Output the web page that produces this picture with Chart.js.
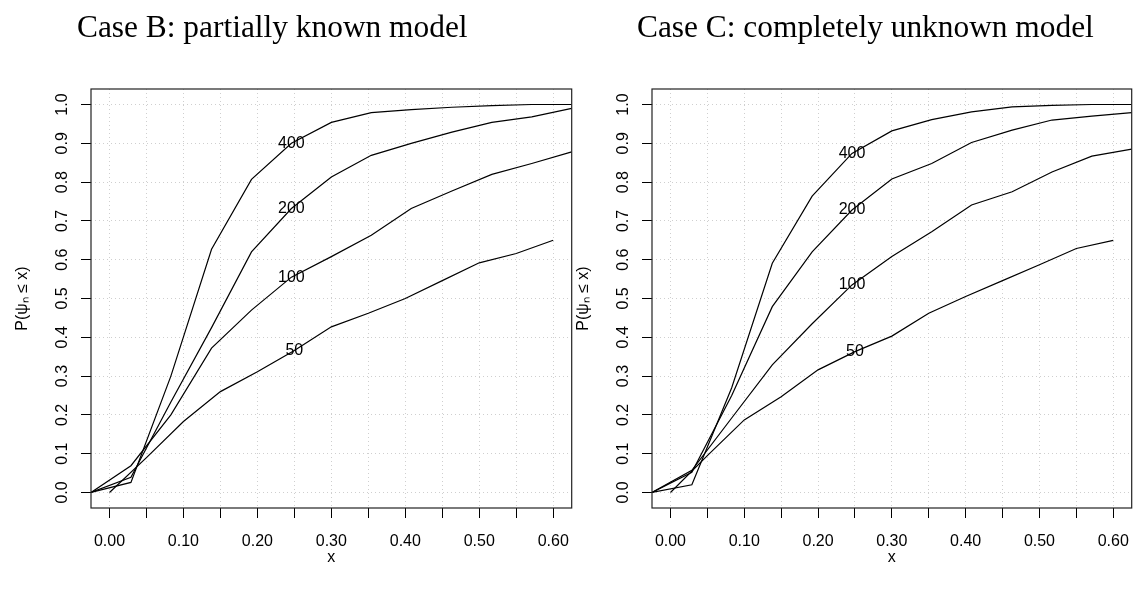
<!DOCTYPE html>
<html>
<head>
<meta charset="utf-8">
<script src="https://cdn.jsdelivr.net/npm/chart.js@4.4.0/dist/chart.umd.min.js"></script>
<style>
  html, body { margin: 0; padding: 0; background: #fff; }
  body { width: 1133px; height: 590px; position: relative; overflow: hidden; }
  canvas.panel { position: absolute; top: 0; }
  .title {
    position: absolute; top: 11px; z-index: 2;
    font-family: "Liberation Serif", "Times New Roman", serif;
    font-size: 31.4px; line-height: 31px; color: #000; white-space: nowrap;
  }
</style>
</head>
<body>
<canvas id="caseB" class="panel" width="574" height="590" style="left:0"></canvas>
<canvas id="caseC" class="panel" width="572" height="590" style="left:561px"></canvas>
<div class="title" style="left:77px">Case B: partially known model</div>
<div class="title" style="left:637px">Case C: completely unknown model</div>
<script>
// sample sizes, one curve each
const sampleSizes = ['400', '200', '100', '50'];

// x positions of the points (n = 400, 200, 100 share one grid, n = 50 has its own)
const gridX = [-0.025, 0.029, 0.083, 0.138, 0.192, 0.246, 0.300, 0.354, 0.408, 0.463, 0.517, 0.571, 0.625];
const grid50 = [0.00, 0.05, 0.10, 0.15, 0.20, 0.25, 0.30, 0.35, 0.40, 0.45, 0.50, 0.55, 0.60];

// Case B: partially known model
const caseB400 = [0, 0.026, 0.300, 0.627, 0.807, 0.900, 0.954, 0.979, 0.987, 0.993, 0.997, 1.000, 1.000];
const caseB200 = [0, 0.039, 0.233, 0.425, 0.620, 0.732, 0.813, 0.869, 0.900, 0.929, 0.954, 0.968, 0.990];
const caseB100 = [0, 0.069, 0.200, 0.372, 0.470, 0.555, 0.608, 0.663, 0.732, 0.777, 0.820, 0.848, 0.878];
const caseB50  = [0, 0.090, 0.183, 0.260, 0.311, 0.366, 0.427, 0.462, 0.500, 0.546, 0.592, 0.616, 0.650];

// Case C: completely unknown model
const caseC400 = [0, 0.020, 0.270, 0.591, 0.764, 0.874, 0.932, 0.961, 0.981, 0.994, 0.998, 1.000, 1.000];
const caseC200 = [0, 0.052, 0.250, 0.479, 0.620, 0.728, 0.808, 0.848, 0.902, 0.934, 0.960, 0.970, 0.979];
const caseC100 = [0, 0.057, 0.192, 0.329, 0.435, 0.535, 0.608, 0.672, 0.741, 0.775, 0.826, 0.867, 0.885];
const caseC50  = [0, 0.095, 0.187, 0.247, 0.316, 0.363, 0.403, 0.462, 0.505, 0.546, 0.587, 0.629, 0.650];

// axis ticks
const xTicks = [0, 0.05, 0.10, 0.15, 0.20, 0.25, 0.30, 0.35, 0.40, 0.45, 0.50, 0.55, 0.60];
const yTicks = [0, 0.1, 0.2, 0.3, 0.4, 0.5, 0.6, 0.7, 0.8, 0.9, 1.0];
const labelIndex = 5; // point where the n label sits

const tickFont = { family: 'Liberation Sans, Arial, sans-serif', size: 16 };

// R style box round the plot region
const boxPlugin = {
    id: 'box',
    afterDraw(chart) {
        const { ctx, chartArea: a } = chart;
        ctx.save();
        ctx.strokeStyle = '#222';
        ctx.lineWidth = 1.2;
        ctx.strokeRect(a.left, a.top, a.right - a.left, a.bottom - a.top);
        ctx.restore();
    }
};

// n labels written over each curve
const curveLabels = {
    id: 'curveLabels',
    afterDatasetsDraw(chart) {
        const ctx = chart.ctx;
        ctx.save();
        ctx.font = '16px "Liberation Sans", Arial, sans-serif';
        ctx.fillStyle = '#000';
        ctx.textAlign = 'center';
        ctx.textBaseline = 'middle';
        chart.data.datasets.forEach((ds, i) => {
            const pt = chart.getDatasetMeta(i).data[labelIndex];
            if (pt) ctx.fillText(ds.label, pt.x, pt.y);
        });
        ctx.restore();
    }
};

function buildDatasets(series) {
    return series.map((ys, i) => {
        const xs = sampleSizes[i] === '50' ? grid50 : gridX;
        return {
            label: sampleSizes[i],
            data: ys.map((y, j) => ({ x: xs[j], y: y })),
            showLine: true,
            borderColor: '#000',
            borderWidth: 1.2,
            pointRadius: 0,
            fill: false,
            tension: 0
        };
    });
}

function renderPanel(canvasId, series, padRight) {
    const canvas = document.getElementById(canvasId);
    return new Chart(canvas, {
        type: 'scatter',
        data: { datasets: buildDatasets(series) },
        options: {
            responsive: false,
            animation: false,
            layout: { padding: { top: 89, right: padRight, bottom: 0, left: 0 } },
            plugins: { legend: { display: false }, tooltip: { enabled: false } },
            scales: {
                x: {
                    type: 'linear',
                    min: -0.025,
                    max: 0.625,
                    afterBuildTicks: s => { s.ticks = xTicks.map(v => ({ value: v })); },
                    afterFit: s => { s.height = 82; s.paddingLeft = 0; s.paddingRight = 0; },
                    ticks: {
                        autoSkip: false, minRotation: 0, maxRotation: 0,
                        color: '#000', font: tickFont, padding: 14,
                        callback: v => (Math.round(v * 100) % 10 === 0 ? v.toFixed(2) : '')
                    },
                    grid: { color: '#cfcfcf', lineWidth: 1, tickColor: '#000', tickLength: 10, tickWidth: 1 },
                    border: { display: false, dash: [1, 3] },
                    title: { display: true, text: 'x', color: '#000', font: tickFont, padding: { top: 0, bottom: 23 } }
                },
                y: {
                    type: 'linear',
                    min: -0.04,
                    max: 1.04,
                    afterBuildTicks: s => { s.ticks = yTicks.map(v => ({ value: v })); },
                    afterFit: s => { s.width = 91; s.paddingTop = 0; s.paddingBottom = 0; },
                    ticks: {
                        minRotation: 90, maxRotation: 90, crossAlign: 'center',
                        color: '#000', font: tickFont, padding: 7,
                        callback: v => v.toFixed(1)
                    },
                    grid: { color: '#cfcfcf', lineWidth: 1, tickColor: '#000', tickLength: 10, tickWidth: 1 },
                    border: { display: false, dash: [1, 3] },
                    title: { display: true, text: 'P(ψₙ ≤ x)', color: '#000', font: tickFont, padding: { top: 13, bottom: 0 } }
                }
            }
        },
        plugins: [boxPlugin, curveLabels]
    });
}

renderPanel('caseB', [caseB400, caseB200, caseB100, caseB50], 2.3);
renderPanel('caseC', [caseC400, caseC200, caseC100, caseC50], 1.3);
</script>
</body>
</html>
